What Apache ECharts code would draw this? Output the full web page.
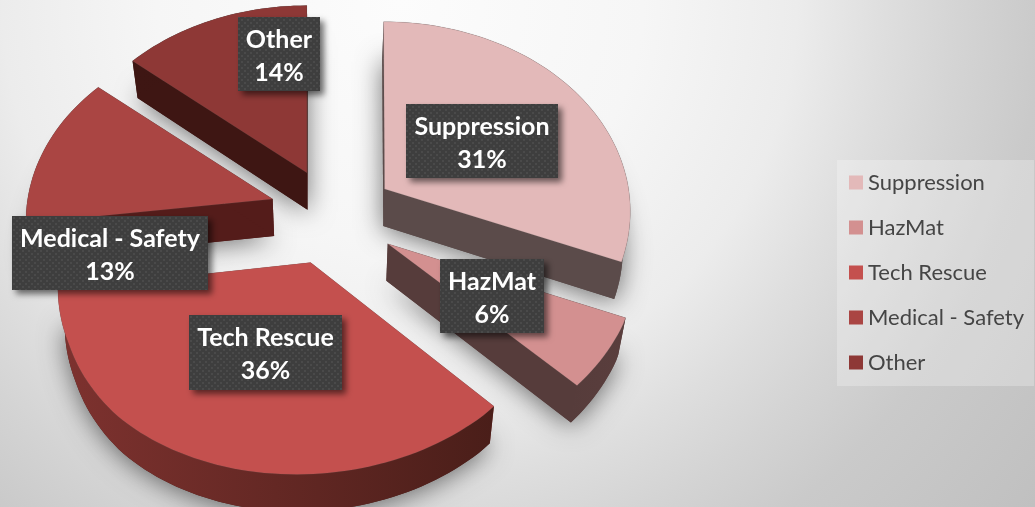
<!DOCTYPE html>
<html>
<head>
<meta charset="utf-8">
<title>Incident types</title>
<style>
html, body { margin: 0; padding: 0; background: #e6e6e6; }
#main { width: 1035px; height: 507px; }
</style>
<script src="https://cdn.jsdelivr.net/npm/echarts@6/dist/echarts.min.js"></script>
</head>
<body>
<div id="main"></div>
<script>
// data
var categories = ['Suppression', 'HazMat', 'Tech Rescue', 'Medical - Safety', 'Other'];
var shares = [31, 6, 36, 13, 14];

// colours: top face, then side face (left and right end of the gradient)
var topColors = ['#E3B9B9', '#D39090', '#C4504E', '#AA4543', '#8E3836'];
var sideLeft = ['#5B4B4A', '#563C3B', '#7E322F', '#541C1A', '#3E1613'];
var sideRight = ['#5B4B4A', '#5A3E3D', '#4A1E19', '#4F1A18', '#3C1512'];

// paint order, back to front
var paintOrder = [4, 0, 3, 1, 2];

// label boxes: left, top, width, height
var labelBoxes = [
    [406, 104, 152, 74],
    [440, 259, 104, 74],
    [189, 315, 153, 75],
    [12, 216, 196, 74],
    [238, 17, 82, 74]
];

// small nudges per slice to follow the perspective of the original
var sliceShift = [[-2, 1], [0, 1], [-1, -1], [4, -3], [3, 2]];
var arcShift = [[-1, 0], [0, 1], [-6, 3], [0, 0], [0, 0]];

// pie projection settings
var cx = 332, cy = 216;
var radiusX = 245, radiusY = 190, perspective = 0.12;
var explodeX = 66, explodeY = 50;
var depth = 37, bottomScale = 0.975;

var total = 0;
for (var i = 0; i < shares.length; i++) {
    total += shares[i];
}

function sliceAngles(idx) {
    var before = 0;
    for (var i = 0; i < idx; i++) {
        before += shares[i];
    }
    return [before / total * Math.PI * 2, (before + shares[idx]) / total * Math.PI * 2];
}

function dotPattern() {
    var c = document.createElement('canvas');
    c.width = 6;
    c.height = 6;
    var ctx = c.getContext('2d');
    ctx.fillStyle = '#3E3E3E';
    ctx.fillRect(0, 0, 6, 6);
    ctx.fillStyle = '#4A4A4A';
    ctx.fillRect(1, 1, 2, 2);
    ctx.fillRect(4, 4, 2, 2);
    return c;
}
var pattern = { image: dotPattern(), repeat: 'repeat' };

function renderSlice(idx) {
    var ang = sliceAngles(idx);
    var mid = (ang[0] + ang[1]) / 2;
    var ox = cx + explodeX * Math.sin(mid) + sliceShift[idx][0];
    var oy = cy - explodeY * Math.cos(mid) + sliceShift[idx][1];
    var arc = [];
    var steps = Math.max(4, Math.round((ang[1] - ang[0]) / 0.03));
    for (var s = 0; s <= steps; s++) {
        var t = ang[0] + (ang[1] - ang[0]) * s / steps;
        var u = Math.sin(t), v = -Math.cos(t);
        var k = 1 + perspective * v;
        // near edge leans a little to the left and flattens
        var lean = -14 * Math.max(0, v - 0.4);
        var flat = -14 * Math.max(0, v - 0.72);
        arc.push([
            ox + radiusX * u * k + lean + arcShift[idx][0],
            oy + radiusY * v * k + flat + arcShift[idx][1]
        ]);
    }
    function lower(p) {
        return [cx + (p[0] - cx) * bottomScale, p[1] + depth];
    }
    var apex = [ox, oy];
    var arcLow = arc.map(lower);
    var apexLow = lower(apex);
    var first = arc[0], last = arc[arc.length - 1];
    var z = paintOrder.indexOf(idx) * 10;
    var box = labelBoxes[idx];

    var children = [
        {   // soft drop shadow, thrown from the underside
            type: 'polygon',
            z2: z,
            shape: { points: [apexLow].concat(arcLow) },
            style: { fill: sideRight[idx], shadowBlur: 26, shadowColor: 'rgba(0,0,0,0.55)', shadowOffsetX: 0, shadowOffsetY: 3 }
        },
        {
            type: 'polygon',
            z2: z + 2,
            shape: { points: [apex, first, lower(first), apexLow] },
            style: { fill: sideLeft[idx] }
        },
        {
            type: 'polygon',
            z2: z + 2,
            shape: { points: [apex, last, lower(last), apexLow] },
            style: { fill: sideLeft[idx] }
        },
        {
            type: 'polygon',
            z2: z + 3,
            shape: { points: arc.concat(arcLow.slice().reverse()) },
            style: {
                fill: new echarts.graphic.LinearGradient(0, 0, 1, 0, [
                    { offset: 0, color: sideLeft[idx] },
                    { offset: 1, color: sideRight[idx] }
                ])
            }
        },
        {
            type: 'polygon',
            z2: z + 4,
            shape: { points: [apex].concat(arc) },
            style: { fill: topColors[idx], stroke: 'rgba(110,110,110,0.25)', lineWidth: 0.6 }
        },
        {
            type: 'rect',
            z2: 100,
            shape: { x: box[0], y: box[1], width: box[2], height: box[3] },
            style: { fill: pattern, shadowBlur: 6, shadowColor: 'rgba(0,0,0,0.55)', shadowOffsetX: 4, shadowOffsetY: 4 }
        },
        {
            type: 'text',
            z2: 101,
            style: {
                x: box[0] + box[2] / 2,
                y: box[1] + box[3] / 2 + 2,
                text: categories[idx] + '\n' + shares[idx] + '%',
                fill: '#FFFFFF',
                font: 'bold 25px Lato, Carlito, sans-serif',
                lineHeight: 33,
                align: 'center',
                verticalAlign: 'middle'
            }
        }
    ];
    return { type: 'group', children: children };
}

var seriesList = [];
for (var n = 0; n < categories.length; n++) {
    (function (idx) {
        seriesList.push({
            name: categories[idx],
            type: 'custom',
            coordinateSystem: 'none',
            silent: true,
            itemStyle: { color: topColors[idx] },
            data: [shares[idx]],
            renderItem: function () {
                return renderSlice(idx);
            }
        });
    })(n);
}

var myChart = echarts.init(document.getElementById('main'));
var option = {
    animation: false,
    backgroundColor: new echarts.graphic.RadialGradient(0.386, 0, 1.6, [
        { offset: 0, color: '#FCFCFC' },
        { offset: 0.3, color: '#F6F6F6' },
        { offset: 0.49, color: '#ECECEC' },
        { offset: 0.6, color: '#DEDEDE' },
        { offset: 0.69, color: '#D4D4D4' },
        { offset: 0.79, color: '#CACACA' },
        { offset: 1, color: '#C0C0C0' }
    ]),
    legend: {
        orient: 'vertical',
        left: 837,
        top: 160,
        padding: [11, 10, 12, 12],
        itemWidth: 14,
        itemHeight: 14,
        itemGap: 22,
        icon: 'rect',
        selectedMode: false,
        backgroundColor: 'rgba(255,255,255,0.25)',
        data: categories,
        textStyle: {
            color: '#454545',
            fontFamily: 'Lato, Carlito, sans-serif',
            fontSize: 22,
            lineHeight: 23
        }
    },
    series: seriesList
};
myChart.setOption(option);
</script>
</body>
</html>
